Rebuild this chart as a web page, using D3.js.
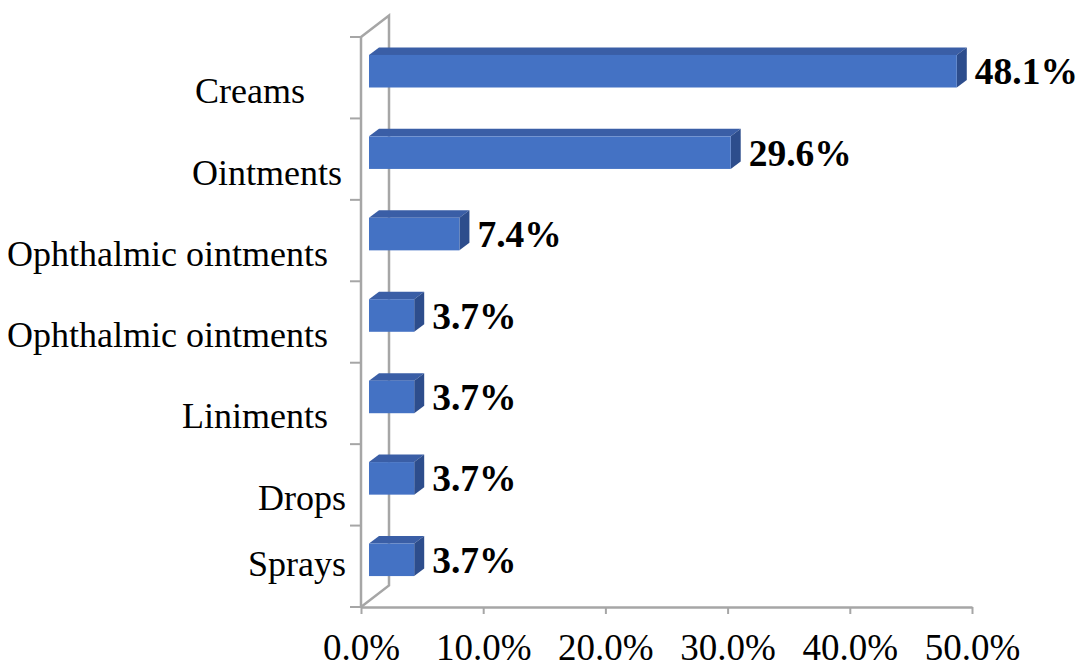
<!DOCTYPE html>
<html>
<head>
<meta charset="utf-8">
<script src="https://cdn.jsdelivr.net/npm/d3@7/dist/d3.min.js"></script>
<style>
  html, body { margin: 0; padding: 0; background: #ffffff; }
  svg { display: block; }
</style>
</head>
<body>
<svg id="chart" width="1085" height="664"></svg>
<script>
// Dosage forms and their share of the total
const categories = ["Creams", "Ointments", "Ophthalmic ointments", "Ophthalmic ointments", "Liniments", "Drops", "Sprays"];
const shares = [48.1, 29.6, 7.4, 3.7, 3.7, 3.7, 3.7];
const tickValues = [0, 10, 20, 30, 40, 50];
const tickLabels = ["0.0%", "10.0%", "20.0%", "30.0%", "40.0%", "50.0%"];

// Per-label text nudges (wrapped label layout), [dx, dy] in px
const labelNudge = [[-41, 12.5], [-4, 13], [-18, 12.7], [-18, 12.4], [-18, 12], [0, 13], [0, -2.5]];

const svg = d3.select("#chart");

// Front plane of the 3-D box
const plotLeft = 361, plotRight = 972, plotTop = 37, plotBottom = 607;
// Back wall offset (depth of the box)
const wallDx = 28, wallDy = -21.5;
// Bar placement in depth
const barOffDx = 8, barOffDy = -6.5;
const barDepthDx = 10, barDepthDy = -7.5;

const serif = "'Liberation Serif', 'Times New Roman', serif";

const x = d3.scaleLinear().domain([0, 50]).range([plotLeft, plotRight]);
const y = d3.scaleBand().domain(d3.range(categories.length)).range([plotTop, plotBottom]).padding(0);
const barH = y.bandwidth() * 0.4;

const gray = "#a6a6a6";
const grid = svg.append("g");

// Back wall edge and side diagonals
grid.append("path")
  .attr("d", `M${plotLeft},${plotTop} L${plotLeft + wallDx},${plotTop + wallDy} L${plotLeft + wallDx},${plotBottom + wallDy} L${plotLeft},${plotBottom}`)
  .attr("fill", "none").attr("stroke", gray).attr("stroke-width", 2.5);

// Front vertical axis line
grid.append("line")
  .attr("x1", plotLeft).attr("x2", plotLeft)
  .attr("y1", plotTop).attr("y2", plotBottom)
  .attr("stroke", gray).attr("stroke-width", 2.5);

// Category tick marks at band boundaries
const boundaries = d3.range(categories.length + 1).map(i => plotTop + i * y.step());
grid.selectAll("line.ytick").data(boundaries).join("line")
  .attr("class", "ytick")
  .attr("x1", plotLeft - 11).attr("x2", plotLeft)
  .attr("y1", d => d).attr("y2", d => d)
  .attr("stroke", gray).attr("stroke-width", 2);

// Horizontal value axis with ticks below
const xAxis = d3.axisBottom(x)
  .tickValues(tickValues)
  .tickFormat((d, i) => tickLabels[i])
  .tickSize(7)
  .tickPadding(20)
  .tickSizeOuter(0);

const axisG = svg.append("g")
  .attr("transform", `translate(0,${plotBottom})`)
  .call(xAxis);
axisG.select(".domain").attr("stroke", gray).attr("stroke-width", 2.5);
axisG.selectAll(".tick line").attr("stroke", gray).attr("stroke-width", 2);
axisG.selectAll(".tick text")
  .attr("fill", "#000")
  .attr("font-family", serif)
  .attr("font-size", 37);

// Category labels
svg.append("g").selectAll("text").data(categories).join("text")
  .attr("x", (d, i) => plotLeft - 15 + labelNudge[i][0])
  .attr("y", (d, i) => y(i) + y.bandwidth() / 2 + labelNudge[i][1])
  .attr("dy", "0.35em")
  .attr("text-anchor", "end")
  .attr("font-family", serif)
  .attr("font-size", 36)
  .attr("fill", "#000")
  .text(d => d);

// 3-D bars: front, top and right faces
const bars = svg.append("g").selectAll("g.bar").data(shares).join("g").attr("class", "bar");

const fx0 = () => x(0) + barOffDx;
const fx1 = d => x(d) + barOffDx;
const fy0 = (d, i) => y(i) + (y.bandwidth() - barH) / 2 + barOffDy;

bars.append("path") // top face
  .attr("d", (d, i) => {
    const a = fx0(), b = fx1(d), t = fy0(d, i);
    return `M${a},${t} L${a + barDepthDx},${t + barDepthDy} L${b + barDepthDx},${t + barDepthDy} L${b},${t} Z`;
  })
  .attr("fill", "#3a5ea6");

bars.append("path") // right face
  .attr("d", (d, i) => {
    const b = fx1(d), t = fy0(d, i);
    return `M${b},${t} L${b + barDepthDx},${t + barDepthDy} L${b + barDepthDx},${t + barH + barDepthDy} L${b},${t + barH} Z`;
  })
  .attr("fill", "#2d4d8c");

bars.append("rect") // front face
  .attr("x", fx0())
  .attr("y", (d, i) => fy0(d, i))
  .attr("width", d => fx1(d) - fx0())
  .attr("height", barH)
  .attr("fill", "#4472c4");

// Value labels
bars.append("text")
  .attr("x", d => fx1(d) + barDepthDx + 8)
  .attr("y", (d, i) => fy0(d, i) + barH / 2)
  .attr("dy", "0.35em")
  .attr("font-family", serif)
  .attr("font-weight", "bold")
  .attr("font-size", 37.5)
  .attr("fill", "#000")
  .text(d => d.toFixed(1) + "%");
</script>
</body>
</html>
